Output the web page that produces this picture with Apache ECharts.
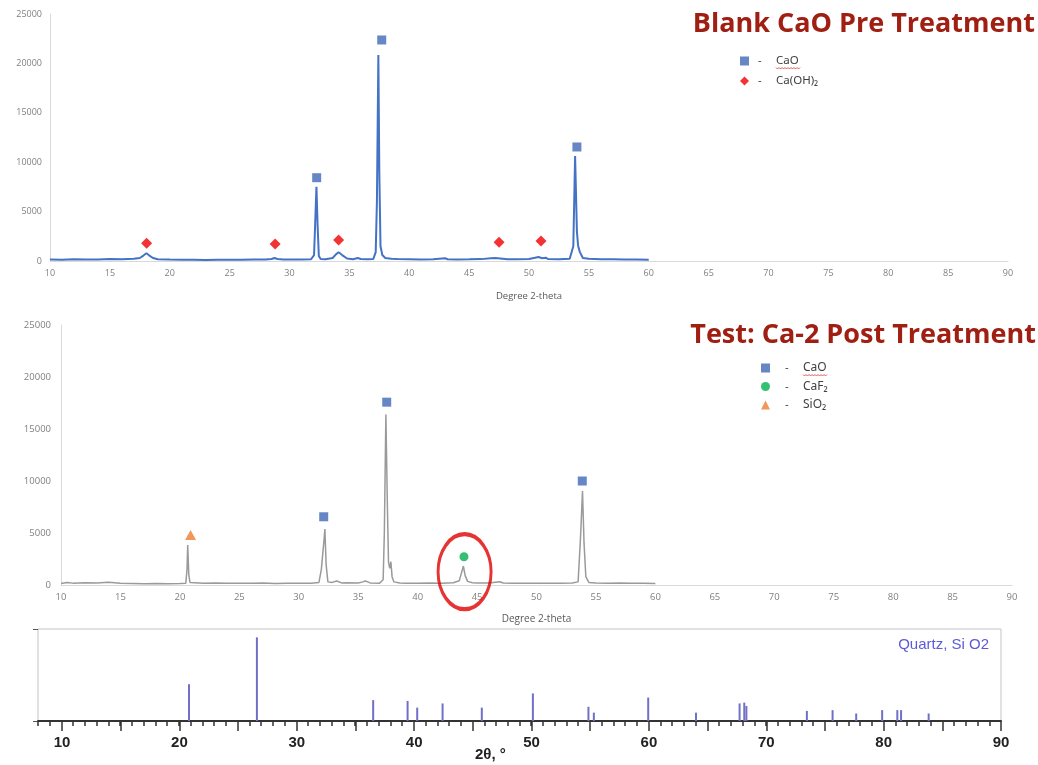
<!DOCTYPE html>
<html>
<head>
<meta charset="utf-8">
<title>XRD CaO</title>
<script src="https://cdn.jsdelivr.net/npm/echarts@6/dist/echarts.min.js"></script>
<style>
html, body { margin: 0; padding: 0; background: #fff; }
#main { width: 1038px; height: 765px; }
</style>
</head>
<body>
<div id="main"></div>
<script>
// top pattern: blank CaO, pre treatment
var topTheta = [10, 11, 12, 13, 14, 15, 16, 17, 17.5, 17.8, 18.05, 18.3, 18.6, 19, 20, 21, 22, 23, 24, 25, 26, 27, 28, 28.5, 28.75, 29, 29.5, 30, 31, 31.8, 32.05, 32.15, 32.25, 32.35, 32.45, 32.6, 33, 33.6, 33.9, 34.1, 34.4, 34.8, 35.3, 35.7, 35.8, 35.95, 36.5, 37, 37.2, 37.3, 37.42, 37.5, 37.6, 37.75, 38, 38.5, 39, 40, 41, 42, 43, 43.2, 44, 45, 46, 46.8, 47.2, 47.6, 48.2, 49, 50, 50.5, 50.8, 51.1, 51.4, 51.6, 52.5, 53.4, 53.7, 53.85, 54, 54.1, 54.25, 54.5, 55, 56, 57, 58, 59, 60];
var topCounts = [150, 120, 180, 140, 160, 200, 170, 220, 300, 550, 780, 550, 300, 180, 140, 120, 130, 110, 120, 130, 120, 140, 150, 200, 300, 200, 150, 140, 150, 180, 600, 4000, 7520, 3500, 500, 200, 180, 300, 700, 880, 600, 250, 180, 300, 350, 200, 170, 200, 900, 6000, 20850, 9000, 1500, 600, 300, 220, 200, 180, 160, 170, 280, 180, 160, 170, 190, 280, 300, 260, 180, 170, 200, 320, 400, 280, 330, 200, 180, 220, 1500, 10630, 3000, 1550, 900, 300, 220, 180, 170, 160, 140, 120];

// bottom pattern: Ca-2, post treatment
var botTheta = [10, 10.5, 11, 12, 13, 14, 15, 16, 17, 18, 19, 20, 20.5, 20.6, 20.66, 20.75, 20.85, 21, 22, 23, 24, 25, 26, 27, 28, 29, 30, 31, 31.7, 31.9, 32.1, 32.2, 32.3, 32.45, 32.8, 33.2, 33.6, 34, 35, 35.4, 35.6, 35.8, 36, 36.8, 37.1, 37.2, 37.33, 37.45, 37.55, 37.65, 37.75, 37.85, 38, 38.5, 39, 40, 41, 42, 43, 43.5, 43.7, 43.85, 44, 44.2, 44.6, 45, 46, 46.9, 47.2, 48, 49, 50, 51, 52, 53, 53.5, 53.7, 53.87, 54, 54.15, 54.4, 55, 56, 57, 58, 59, 60];
var botCounts = [150, 250, 180, 220, 200, 260, 180, 150, 120, 140, 120, 150, 180, 1500, 3840, 1000, 250, 200, 180, 200, 170, 160, 170, 190, 150, 170, 160, 180, 250, 1500, 4000, 5380, 2000, 300, 250, 380, 200, 220, 200, 300, 380, 300, 200, 180, 500, 5000, 16400, 8000, 2200, 1600, 2240, 800, 300, 200, 180, 170, 200, 180, 220, 400, 1200, 1825, 900, 350, 220, 200, 190, 320, 200, 180, 170, 160, 170, 180, 190, 300, 4500, 9030, 4000, 800, 250, 200, 180, 190, 170, 180, 150];

// phase markers [2theta, counts]
var topCaO = [[32.27, 8430], [37.7, 22370], [54.0, 11540]];
var topCaOH2 = [[18.07, 1790], [28.8, 1720], [34.1, 2125], [47.5, 1890], [51.0, 2020]];
var botCaO = [[32.1, 6560], [37.4, 17580], [53.85, 10000]];
var botCaF2 = [[43.9, 2720]];
var botSiO2 = [[20.9, 4800]];
var circled = [[43.95, 1280]];

// quartz reference pattern
var quartzTheta = [20.86, 26.64, 36.54, 39.47, 40.29, 42.45, 45.79, 50.14, 54.87, 55.33, 59.96, 64.03, 67.74, 68.14, 68.32, 73.47, 75.66, 77.67, 79.88, 81.17, 81.49, 83.84];
var quartzInt = [44, 100, 25, 24, 16, 21, 16, 33, 17, 10, 28, 10, 21, 22, 18, 12, 13, 9, 13, 13, 13, 9];

var xTicks = ['10', '20', '30', '40', '50', '60', '70', '80', '90'];

function pairs(xs, ys) {
    return xs.map(function (x, i) { return [x, ys[i]]; });
}

var myChart = echarts.init(document.getElementById('main'));

var smallAxis = { fontFamily: 'Open Sans', fontSize: 9, color: '#808080', formatter: function (v) { return String(v); } };

function legendText(name) {
    return '{d|-}{n|' + name + '}';
}

function squiggle(x0, x1, y) {
    var pts = [];
    for (var x = x0, k = 0; x <= x1; x += 1.5, k++) {
        pts.push([x, y + (k % 2 ? 1 : -0.5)]);
    }
    return pts;
}

var option = {
    animation: false,
    backgroundColor: '#fff',
    title: [
        { text: 'Blank CaO Pre Treatment', right: 3, top: 11, padding: 0,
          textStyle: { fontFamily: 'Open Sans', fontWeight: 'bold', fontSize: 27, color: '#A01F12' } },
        { text: 'Test: Ca-2 Post Treatment', right: 2, top: 322, padding: 0,
          textStyle: { fontFamily: 'Open Sans', fontWeight: 'bold', fontSize: 27, color: '#A01F12' } },
        { text: 'Quartz, Si O2', right: 49, top: 637, padding: 0,
          textStyle: { fontFamily: 'Liberation Sans', fontWeight: 'normal', fontSize: 15, color: '#5B5BD6' } }
    ],
    legend: [
        {
            data: [{ name: 'CaO', icon: 'rect' }, { name: 'Ca(OH)₂', icon: 'diamond' }],
            orient: 'vertical', left: 740, top: 55, padding: 0,
            itemWidth: 9, itemHeight: 9, itemGap: 8, selectedMode: false,
            formatter: legendText,
            textStyle: {
                rich: {
                    d: { width: 18, padding: [0, 0, 0, 4], fontSize: 11, color: '#404040', lineHeight: 14 },
                    n: { fontFamily: 'Noto Sans', fontSize: 11.5, color: '#404040', lineHeight: 14 }
                }
            }
        },
        {
            data: [{ name: 'CaO', icon: 'rect' }, { name: 'CaF₂', icon: 'circle' }, { name: 'SiO₂', icon: 'triangle' }],
            orient: 'vertical', left: 761, top: 362, padding: 0,
            itemWidth: 9, itemHeight: 9, itemGap: 6.5, selectedMode: false,
            formatter: legendText,
            textStyle: {
                rich: {
                    d: { width: 18, padding: [0, 0, 0, 10], fontSize: 11, color: '#404040', lineHeight: 14 },
                    n: { fontFamily: 'Noto Sans', fontSize: 12, color: '#404040', lineHeight: 14 }
                }
            }
        }
    ],
    grid: [
        { left: 50, right: 30, top: 14, bottom: 504 },
        { left: 61, right: 26, top: 325, bottom: 180 },
        { left: 38, right: 37, top: 629, bottom: 44, show: true, borderColor: '#c4c4c4', borderWidth: 1 },
        { left: 62, right: 37, top: 629, bottom: 44 }
    ],
    xAxis: [
        { gridIndex: 0, type: 'value', min: 10, max: 90, interval: 5,
          axisLine: { lineStyle: { color: '#d9d9d9' } }, axisTick: { show: false }, splitLine: { show: false },
          axisLabel: Object.assign({ margin: 8 }, smallAxis),
          name: 'Degree 2-theta', nameLocation: 'middle', nameGap: 30,
          nameTextStyle: { fontFamily: 'Open Sans', fontSize: 9.5, color: '#595959' } },
        { gridIndex: 1, type: 'value', min: 10, max: 90, interval: 5,
          axisLine: { lineStyle: { color: '#d9d9d9' } }, axisTick: { show: false }, splitLine: { show: false },
          axisLabel: Object.assign({}, smallAxis, { margin: 7, fontSize: 9.5 }),
          name: 'Degree 2-theta', nameLocation: 'middle', nameGap: 29,
          nameTextStyle: { fontFamily: 'Open Sans', fontSize: 10, color: '#595959' } },
        { gridIndex: 2, type: 'value', min: 8, max: 90, interval: 1,
          axisLine: { lineStyle: { color: '#333', width: 2 } },
          axisTick: { length: 5, lineStyle: { color: '#333', width: 1.5 } },
          axisLabel: { show: false }, splitLine: { show: false } },
        { gridIndex: 3, type: 'value', min: 10, max: 90, interval: 5,
          axisLine: { show: false },
          axisTick: { length: 10, lineStyle: { color: '#333', width: 1.5 } },
          axisLabel: { margin: 14, fontFamily: 'Liberation Sans', fontSize: 15, fontWeight: 'bold', color: '#222',
                       formatter: function (v) { return xTicks.indexOf(String(v)) >= 0 ? String(v) : ''; } },
          splitLine: { show: false } }
    ],
    yAxis: [
        { gridIndex: 0, type: 'value', min: 0, max: 25000, interval: 5000,
          axisLine: { show: true, lineStyle: { color: '#d9d9d9' } }, axisTick: { show: false }, splitLine: { show: false },
          axisLabel: Object.assign({ margin: 8 }, smallAxis) },
        { gridIndex: 1, type: 'value', min: 0, max: 25000, interval: 5000,
          axisLine: { show: true, lineStyle: { color: '#d9d9d9' } }, axisTick: { show: false }, splitLine: { show: false },
          axisLabel: Object.assign({}, smallAxis, { margin: 10, fontSize: 9.5 }) },
        { gridIndex: 2, type: 'value', min: 0, max: 110, interval: 110,
          axisLine: { show: false }, axisLabel: { show: false }, splitLine: { show: false },
          axisTick: { show: true, length: 5, lineStyle: { color: '#555' } } },
        { gridIndex: 3, type: 'value', min: 0, max: 110, show: false }
    ],
    graphic: [
        { type: 'text', left: 475, top: 747,
          style: { text: '2θ, °', font: 'bold 15px "Liberation Sans"', fill: '#222' } },
        { type: 'polyline', shape: { points: squiggle(776, 800, 68) },
          style: { stroke: '#e03030', lineWidth: 0.8, fill: null } },
        { type: 'polyline', shape: { points: squiggle(803, 828, 375) },
          style: { stroke: '#e03030', lineWidth: 0.8, fill: null } }
    ],
    series: [
        { name: 'blank', type: 'line', xAxisIndex: 0, yAxisIndex: 0, data: pairs(topTheta, topCounts),
          showSymbol: false, lineStyle: { color: '#4472C4', width: 2 }, itemStyle: { color: '#4472C4' } },
        { name: 'CaO', type: 'scatter', xAxisIndex: 0, yAxisIndex: 0, data: topCaO,
          symbol: 'rect', symbolSize: 9, itemStyle: { color: '#4068B8' } },
        { name: 'Ca(OH)₂', type: 'scatter', xAxisIndex: 0, yAxisIndex: 0, data: topCaOH2,
          symbol: 'diamond', symbolSize: 11, itemStyle: { color: '#F00000' } },

        { name: 'Ca-2', type: 'line', xAxisIndex: 1, yAxisIndex: 1, data: pairs(botTheta, botCounts),
          showSymbol: false, lineStyle: { color: '#9a9a9a', width: 1.5 }, itemStyle: { color: '#9a9a9a' } },
        { name: 'CaO', type: 'scatter', xAxisIndex: 1, yAxisIndex: 1, data: botCaO,
          symbol: 'rect', symbolSize: 9, itemStyle: { color: '#4068B8' } },
        { name: 'CaF₂', type: 'scatter', xAxisIndex: 1, yAxisIndex: 1, data: botCaF2,
          symbol: 'circle', symbolSize: 9, itemStyle: { color: '#00B050' } },
        { name: 'SiO₂', type: 'scatter', xAxisIndex: 1, yAxisIndex: 1, data: botSiO2,
          symbol: 'triangle', symbolSize: [11, 10], itemStyle: { color: '#ED7D31' } },
        { name: 'highlight', type: 'scatter', xAxisIndex: 1, yAxisIndex: 1, data: circled,
          symbol: 'circle', symbolSize: [53, 75], z: 5, silent: true,
          itemStyle: { color: 'rgba(0,0,0,0)', borderColor: '#E00000', borderWidth: 3.5 } },

        { name: 'Quartz', type: 'bar', xAxisIndex: 2, yAxisIndex: 2, data: pairs(quartzTheta, quartzInt),
          barWidth: 2, itemStyle: { color: '#7070C8' } }
    ]
};

myChart.setOption(option);
</script>
</body>
</html>
